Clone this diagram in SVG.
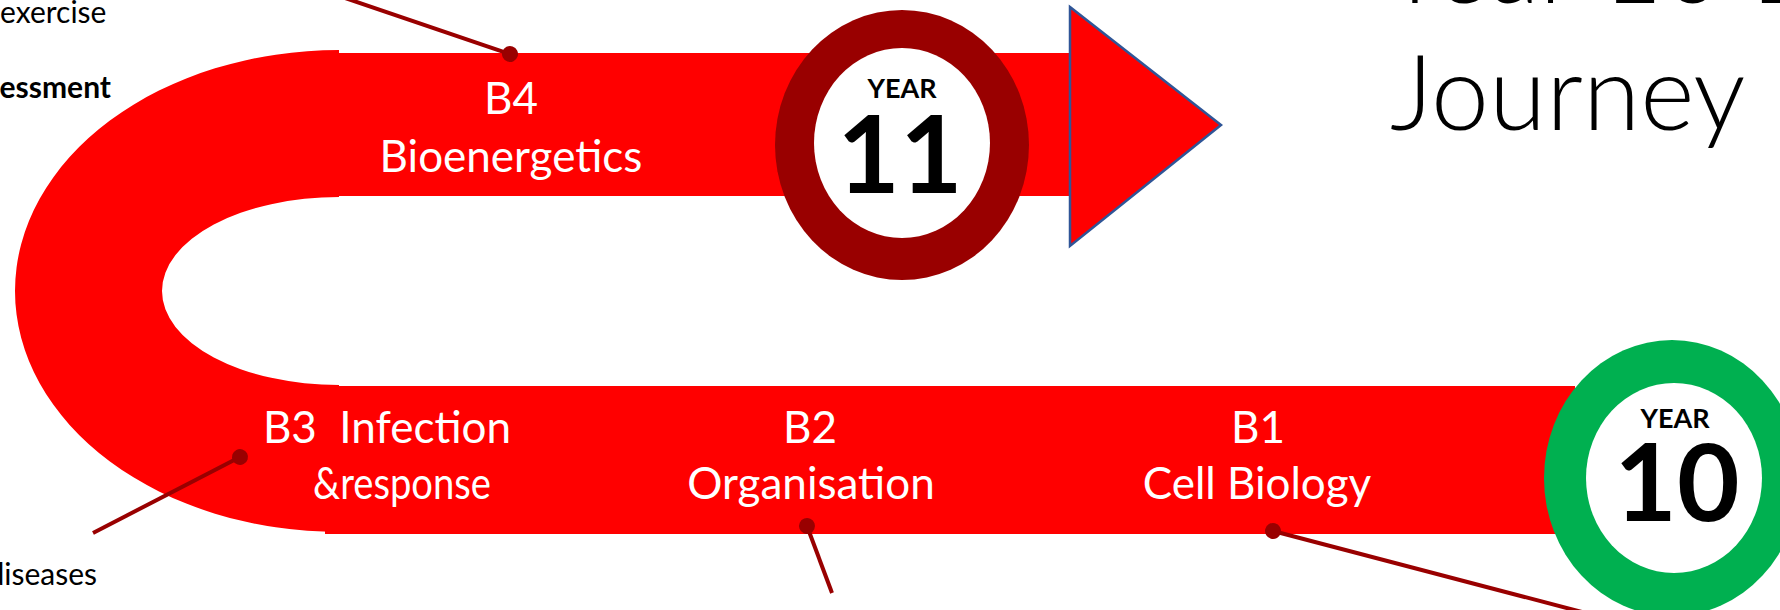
<svg xmlns="http://www.w3.org/2000/svg" width="1780" height="610" viewBox="0 0 1780 610">
  <style>
    .path { fill: #FF0000; }
    .lbl { font-family: "Lato", "Liberation Sans", sans-serif; font-size: 44px; fill: #FFFFFF; text-anchor: middle; }
    .note { font-family: "Lato", "Liberation Sans", sans-serif; font-size: 30px; fill: #000000; }
    .yr { font-family: "Lato", "Liberation Sans", sans-serif; font-weight: bold; fill: #000000; text-anchor: middle; }
    .yr-small { font-size: 27px; }
    .yr-big { font-size: 108px; }
    .title { font-family: "Lato", "Liberation Sans", sans-serif; font-weight: 300; font-size: 104px; fill: #000000; }
    .conn { stroke: #990000; stroke-width: 4; fill: none; }
  </style>
  <defs>
    <marker id="dot" markerUnits="userSpaceOnUse" markerWidth="18" markerHeight="18" refX="9" refY="9" orient="auto">
      <circle cx="9" cy="9" r="8" fill="#990000"/>
    </marker>
  </defs>

  <rect width="1780" height="610" fill="#FFFFFF"/>

  <g id="title">
    <text class="title" x="1384" y="3">Year 10 Learning</text>
    <text class="title" x="1390" y="130">Journey</text>
  </g>

  <g id="notes">
    <text class="note" x="0" y="23">exercise</text>
    <text class="note" x="111" y="98" font-weight="bold" text-anchor="end">essment</text>
    <text class="note" x="97" y="585" text-anchor="end">diseases</text>
  </g>

  <g id="journey-path">
    <path id="u-turn" class="path" d="M 339 50 A 324 241 0 0 0 339 532 L 339 385 A 177 94 0 0 1 339 197 Z"/>
    <rect id="band-top" class="path" x="338" y="53" width="734" height="143"/>
    <rect id="band-bottom" class="path" x="325" y="386" width="1250" height="148"/>
    <polygon id="arrow-head" points="1070,7 1221,125 1070,246" fill="#FF0000" stroke="#2F5597" stroke-width="2.5" stroke-linejoin="miter"/>
  </g>

  <g id="year11">
    <ellipse cx="902" cy="145" rx="127" ry="135" fill="#990000"/>
    <ellipse cx="902" cy="143" rx="88" ry="95" fill="#FFFFFF"/>
    <text class="yr yr-small" x="902" y="98">YEAR</text>
    <text class="yr yr-big" x="900" y="193">11</text>
  </g>

  <g id="year10">
    <ellipse cx="1672" cy="478" rx="128" ry="138" fill="#00B050"/>
    <ellipse cx="1674" cy="478" rx="88" ry="95" fill="#FFFFFF"/>
    <text class="yr yr-small" x="1675" y="428">YEAR</text>
    <text class="yr yr-big" x="1677" y="521">10</text>
  </g>

  <g id="b4">
    <text class="lbl" x="511" y="114">B4</text>
    <text class="lbl" x="511" y="172">Bioenergetics</text>
  </g>
  <g id="b3">
    <text class="lbl" x="387" y="443" xml:space="preserve">B3  Infection</text>
    <text class="lbl" x="402" y="499" textLength="178" lengthAdjust="spacingAndGlyphs">&amp;response</text>
  </g>
  <g id="b2">
    <text class="lbl" x="810" y="443">B2</text>
    <text class="lbl" x="811" y="499">Organisation</text>
  </g>
  <g id="b1">
    <text class="lbl" x="1258" y="443">B1</text>
    <text class="lbl" x="1257" y="499">Cell Biology</text>
  </g>

  <g id="connectors">
    <line class="conn" x1="510" y1="54" x2="345" y2="-2" marker-start="url(#dot)"/>
    <line class="conn" x1="240" y1="457" x2="93" y2="533" marker-start="url(#dot)"/>
    <line class="conn" x1="807" y1="526" x2="832" y2="593" marker-start="url(#dot)"/>
    <line class="conn" x1="1273" y1="531" x2="1582" y2="612" marker-start="url(#dot)"/>
  </g>
</svg>
